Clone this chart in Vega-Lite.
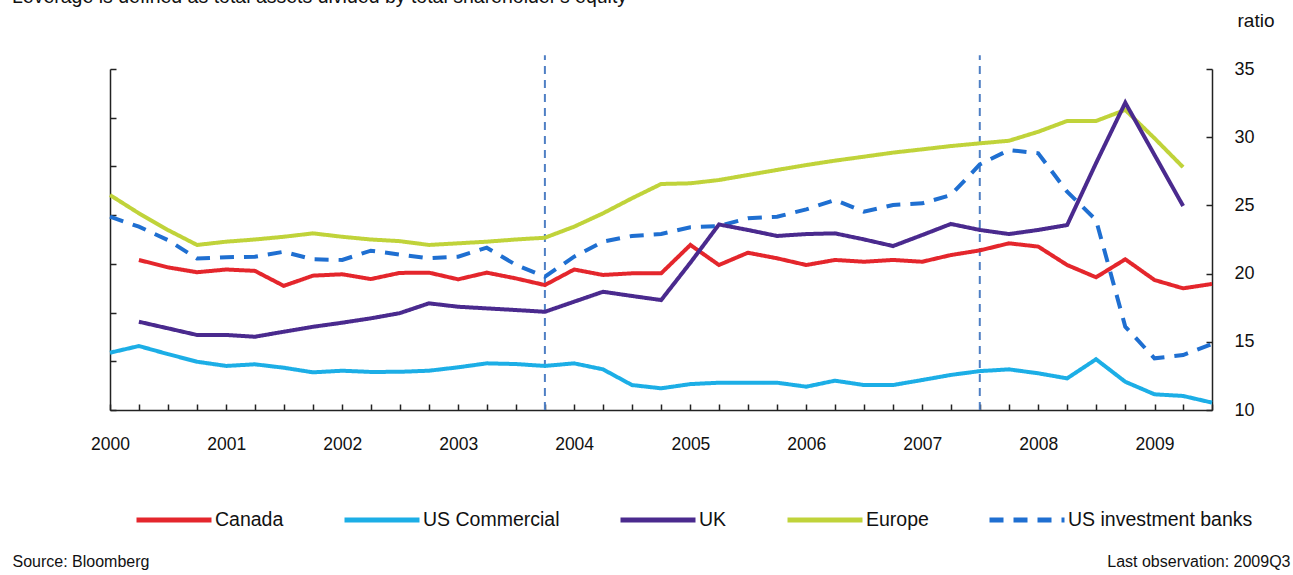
{
  "$schema": "https://vega.github.io/schema/vega-lite/v6.json",
  "width": 1102,
  "height": 341,
  "autosize": {"type": "none"},
  "padding": {"left": 110, "top": 69, "right": 81, "bottom": 165},
  "background": "white",
  "config": {
    "view": {"stroke": null},
    "font": "Liberation Sans, Arial, sans-serif"
  },
  "title": {
    "text": "Leverage is defined as total assets divided by total shareholder's equity",
    "anchor": "start",
    "frame": "group",
    "font": "Liberation Sans, Arial, sans-serif",
    "fontSize": 19.5,
    "fontWeight": "normal",
    "color": "#111111",
    "baseline": "alphabetic",
    "dx": -98,
    "dy": 11,
    "offset": 0
  },
  "datasets": {
    "wide": [
      {"q": "2000-01-01", "Canada": null, "US Commercial": 14.2, "UK": null, "Europe": 25.76, "US investment banks": 24.17},
      {"q": "2000-04-01", "Canada": 21.0, "US Commercial": 14.69, "UK": 16.47, "Europe": 24.42, "US investment banks": 23.44},
      {"q": "2000-07-01", "Canada": 20.46, "US Commercial": 14.1, "UK": 15.99, "Europe": 23.2, "US investment banks": 22.46},
      {"q": "2000-10-01", "Canada": 20.1, "US Commercial": 13.54, "UK": 15.5, "Europe": 22.1, "US investment banks": 21.1},
      {"q": "2001-01-01", "Canada": 20.3, "US Commercial": 13.23, "UK": 15.5, "Europe": 22.34, "US investment banks": 21.2},
      {"q": "2001-04-01", "Canada": 20.2, "US Commercial": 13.35, "UK": 15.37, "Europe": 22.5, "US investment banks": 21.24},
      {"q": "2001-07-01", "Canada": 19.1, "US Commercial": 13.1, "UK": 15.74, "Europe": 22.7, "US investment banks": 21.6},
      {"q": "2001-10-01", "Canada": 19.85, "US Commercial": 12.76, "UK": 16.1, "Europe": 22.95, "US investment banks": 21.05},
      {"q": "2002-01-01", "Canada": 19.95, "US Commercial": 12.88, "UK": 16.4, "Europe": 22.7, "US investment banks": 21.0},
      {"q": "2002-04-01", "Canada": 19.6, "US Commercial": 12.79, "UK": 16.72, "Europe": 22.5, "US investment banks": 21.68},
      {"q": "2002-07-01", "Canada": 20.05, "US Commercial": 12.8, "UK": 17.1, "Europe": 22.38, "US investment banks": 21.4},
      {"q": "2002-10-01", "Canada": 20.07, "US Commercial": 12.88, "UK": 17.82, "Europe": 22.1, "US investment banks": 21.12},
      {"q": "2003-01-01", "Canada": 19.58, "US Commercial": 13.13, "UK": 17.57, "Europe": 22.22, "US investment banks": 21.24},
      {"q": "2003-04-01", "Canada": 20.07, "US Commercial": 13.42, "UK": 17.45, "Europe": 22.34, "US investment banks": 21.9},
      {"q": "2003-07-01", "Canada": 19.65, "US Commercial": 13.37, "UK": 17.33, "Europe": 22.5, "US investment banks": 20.65},
      {"q": "2003-10-01", "Canada": 19.16, "US Commercial": 13.23, "UK": 17.2, "Europe": 22.63, "US investment banks": 19.77},
      {"q": "2004-01-01", "Canada": 20.3, "US Commercial": 13.42, "UK": 17.94, "Europe": 23.44, "US investment banks": 21.24},
      {"q": "2004-04-01", "Canada": 19.9, "US Commercial": 12.98, "UK": 18.67, "Europe": 24.42, "US investment banks": 22.34},
      {"q": "2004-07-01", "Canada": 20.02, "US Commercial": 11.83, "UK": 18.36, "Europe": 25.52, "US investment banks": 22.76},
      {"q": "2004-10-01", "Canada": 20.02, "US Commercial": 11.59, "UK": 18.06, "Europe": 26.57, "US investment banks": 22.9},
      {"q": "2005-01-01", "Canada": 22.1, "US Commercial": 11.9, "UK": 20.8, "Europe": 26.62, "US investment banks": 23.4},
      {"q": "2005-04-01", "Canada": 20.63, "US Commercial": 12.0, "UK": 23.6, "Europe": 26.86, "US investment banks": 23.49},
      {"q": "2005-07-01", "Canada": 21.53, "US Commercial": 12.0, "UK": 23.2, "Europe": 27.23, "US investment banks": 24.05},
      {"q": "2005-10-01", "Canada": 21.12, "US Commercial": 12.0, "UK": 22.76, "Europe": 27.6, "US investment banks": 24.17},
      {"q": "2006-01-01", "Canada": 20.63, "US Commercial": 11.71, "UK": 22.9, "Europe": 27.96, "US investment banks": 24.71},
      {"q": "2006-04-01", "Canada": 21.0, "US Commercial": 12.15, "UK": 22.95, "Europe": 28.28, "US investment banks": 25.4},
      {"q": "2006-07-01", "Canada": 20.87, "US Commercial": 11.83, "UK": 22.51, "Europe": 28.57, "US investment banks": 24.54},
      {"q": "2006-10-01", "Canada": 21.0, "US Commercial": 11.83, "UK": 22.02, "Europe": 28.87, "US investment banks": 25.03},
      {"q": "2007-01-01", "Canada": 20.87, "US Commercial": 12.2, "UK": 22.83, "Europe": 29.11, "US investment banks": 25.15},
      {"q": "2007-04-01", "Canada": 21.36, "US Commercial": 12.57, "UK": 23.64, "Europe": 29.35, "US investment banks": 25.76},
      {"q": "2007-07-01", "Canada": 21.7, "US Commercial": 12.85, "UK": 23.2, "Europe": 29.55, "US investment banks": 28.0},
      {"q": "2007-10-01", "Canada": 22.22, "US Commercial": 12.98, "UK": 22.9, "Europe": 29.74, "US investment banks": 29.06},
      {"q": "2008-01-01", "Canada": 21.98, "US Commercial": 12.69, "UK": 23.2, "Europe": 30.4, "US investment banks": 28.82},
      {"q": "2008-04-01", "Canada": 20.63, "US Commercial": 12.32, "UK": 23.56, "Europe": 31.19, "US investment banks": 26.0},
      {"q": "2008-07-01", "Canada": 19.73, "US Commercial": 13.72, "UK": 28.1, "Europe": 31.19, "US investment banks": 23.93},
      {"q": "2008-10-01", "Canada": 21.05, "US Commercial": 12.07, "UK": 32.53, "Europe": 32.0, "US investment banks": 16.11},
      {"q": "2009-01-01", "Canada": 19.53, "US Commercial": 11.15, "UK": 28.7, "Europe": 29.92, "US investment banks": 13.79},
      {"q": "2009-04-01", "Canada": 18.92, "US Commercial": 11.03, "UK": 24.96, "Europe": 27.8, "US investment banks": 14.03},
      {"q": "2009-07-01", "Canada": 19.24, "US Commercial": 10.54, "UK": null, "Europe": null, "US investment banks": 14.84}
    ],
    "events": [
      {"q": "2003-10-01", "lo": 10, "hi": 36},
      {"q": "2007-07-01", "lo": 10, "hi": 36}
    ]
  },
  "resolve": {"axis": {"y": "independent"}},
  "layer": [
    {
      "data": {"name": "events"},
      "mark": {"type": "rule", "color": "#4F7FC4", "strokeWidth": 2, "strokeDash": [8, 6]},
      "encoding": {
        "x": {
          "field": "q", "type": "temporal",
          "scale": {"type": "utc", "domain": [{"year": 2000, "month": 1, "date": 1, "utc": true}, {"year": 2009, "month": 7, "date": 1, "utc": true}], "nice": false},
          "axis": {
            "tickCount": {"interval": "month", "step": 3},
            "labelExpr": "utcmonth(datum.value) == 0 ? utcFormat(datum.value, '%Y') : ''",
            "grid": false,
            "domainColor": "#222222",
            "domainWidth": 1.5,
            "tickColor": "#222222",
            "tickWidth": 1.5,
            "tickSize": -6,
            "labelPadding": 31,
            "labelFontSize": 17.5,
            "labelColor": "#111111",
            "labelFlush": false,
            "labelOverlap": false,
            "title": "Last observation: 2009Q3",
            "titleAlign": "right",
            "titleBaseline": "alphabetic",
            "titleX": 1180,
            "titleY": 156,
            "titleFontSize": 16,
            "titleFontWeight": "normal",
            "titleColor": "#111111"
          }
        },
        "y": {
          "field": "lo", "type": "quantitative",
          "scale": {"domain": [10, 35], "nice": false, "zero": false},
          "axis": {
            "orient": "left",
            "values": [10, 13.5714, 17.1429, 20.7143, 24.2857, 27.8571, 31.4286, 35],
            "labels": false,
            "grid": false,
            "domainColor": "#222222",
            "domainWidth": 1.5,
            "tickColor": "#222222",
            "tickWidth": 1.5,
            "tickSize": -6,
            "title": "Source: Bloomberg",
            "titleAngle": 0,
            "titleAlign": "left",
            "titleBaseline": "alphabetic",
            "titleX": -98,
            "titleY": 497,
            "titleFontSize": 16,
            "titleFontWeight": "normal",
            "titleColor": "#111111"
          }
        },
        "y2": {"field": "hi"}
      }
    },
    {
      "data": {"name": "wide"},
      "transform": [
        {"fold": ["Canada", "US Commercial", "UK", "Europe", "US investment banks"], "as": ["series", "v"]},
        {"filter": "datum.v != null"}
      ],
      "mark": {"type": "line", "strokeWidth": 4, "strokeCap": "butt"},
      "encoding": {
        "x": {
          "field": "q", "type": "temporal",
          "scale": {"type": "utc", "domain": [{"year": 2000, "month": 1, "date": 1, "utc": true}, {"year": 2009, "month": 7, "date": 1, "utc": true}], "nice": false},
          "axis": {
            "tickCount": {"interval": "month", "step": 3},
            "labelExpr": "utcmonth(datum.value) == 0 ? utcFormat(datum.value, '%Y') : ''",
            "grid": false,
            "domainColor": "#222222",
            "domainWidth": 1.5,
            "tickColor": "#222222",
            "tickWidth": 1.5,
            "tickSize": -6,
            "labelPadding": 31,
            "labelFontSize": 17.5,
            "labelColor": "#111111",
            "labelFlush": false,
            "labelOverlap": false,
            "title": "Last observation: 2009Q3",
            "titleAlign": "right",
            "titleBaseline": "alphabetic",
            "titleX": 1180,
            "titleY": 156,
            "titleFontSize": 16,
            "titleFontWeight": "normal",
            "titleColor": "#111111"
          }
        },
        "y": {
          "field": "v", "type": "quantitative",
          "scale": {"domain": [10, 35], "nice": false, "zero": false},
          "axis": {
            "orient": "right",
            "values": [10, 15, 20, 25, 30, 35],
            "grid": false,
            "domainColor": "#222222",
            "domainWidth": 1.5,
            "tickColor": "#222222",
            "tickWidth": 1.5,
            "tickSize": -6,
            "labelPadding": 28,
            "labelFontSize": 18,
            "labelColor": "#111111",
            "labelAlign": "left",
            "title": "ratio",
            "titleAngle": 0,
            "titleAlign": "left",
            "titleBaseline": "alphabetic",
            "titleX": 25,
            "titleY": -43,
            "titleFontSize": 19,
            "titleFontWeight": "normal",
            "titleColor": "#111111"
          }
        },
        "color": {
          "field": "series", "type": "nominal",
          "scale": {
            "domain": ["Canada", "US Commercial", "UK", "Europe", "US investment banks"],
            "range": ["#E4262C", "#1CAEE6", "#4A2A8E", "#C0D33A", "#1F6FD1"]
          },
          "legend": {
            "orient": "none",
            "legendX": 24,
            "legendY": 411,
            "direction": "horizontal",
            "columns": 5,
            "title": null,
            "symbolType": "stroke",
            "symbolSize": 5625,
            "symbolStrokeWidth": 5,
            "labelFontSize": 19.5,
            "labelColor": "#111111",
            "labelOffset": 1,
            "columnPadding": 50,
            "labelLimit": 400
          }
        },
        "strokeDash": {
          "field": "series", "type": "nominal",
          "scale": {
            "domain": ["Canada", "US Commercial", "UK", "Europe", "US investment banks"],
            "range": [[1, 0], [1, 0], [1, 0], [1, 0], [14, 10]]
          },
          "legend": {
            "orient": "none",
            "legendX": 24,
            "legendY": 411,
            "direction": "horizontal",
            "columns": 5,
            "title": null,
            "symbolType": "stroke",
            "symbolSize": 5625,
            "symbolStrokeWidth": 5,
            "labelFontSize": 19.5,
            "labelColor": "#111111",
            "labelOffset": 1,
            "columnPadding": 50,
            "labelLimit": 400
          }
        }
      }
    }
  ]
}
